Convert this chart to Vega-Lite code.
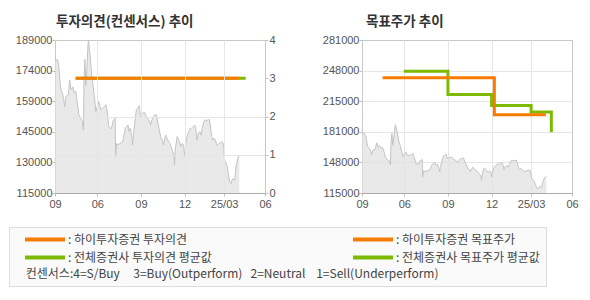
{
  "$schema": "https://vega.github.io/schema/vega-lite/v6.json",
  "padding": {"left": 8, "top": 14, "right": 5, "bottom": 5},
  "background": "white",
  "config": {
    "view": {"stroke": "#c8c8c8", "strokeWidth": 1},
    "axis": {"labelFont": "Liberation Sans", "labelFontSize": 11, "labelColor": "#555555", "domain": false, "tickColor": "#c0c0c0", "tickSize": 3, "gridColor": "#e6e6e6", "labelPadding": 1, "labelOverlap": false, "labelFlush": false},
    "axisX": {"domain": true, "domainColor": "#aaaaaa"},
    "title": {"anchor": "start", "frame": "group", "font": "Noto Sans CJK KR", "fontSize": 13.5, "fontWeight": "bold", "color": "#333333", "offset": 6}
  },
  "datasets": {
    "price": [
      {"date": "2024-03-01", "close": 178800}, {"date": "2024-03-06", "close": 179600}, {"date": "2024-03-09", "close": 177100},
      {"date": "2024-03-13", "close": 165800}, {"date": "2024-03-17", "close": 163400}, {"date": "2024-03-20", "close": 160100},
      {"date": "2024-03-22", "close": 156600}, {"date": "2024-03-25", "close": 161700}, {"date": "2024-03-30", "close": 162600},
      {"date": "2024-04-02", "close": 169500}, {"date": "2024-04-05", "close": 165000}, {"date": "2024-04-09", "close": 166300},
      {"date": "2024-04-12", "close": 163400}, {"date": "2024-04-15", "close": 164200}, {"date": "2024-04-18", "close": 159300},
      {"date": "2024-04-22", "close": 152800}, {"date": "2024-04-25", "close": 151200}, {"date": "2024-04-29", "close": 150000},
      {"date": "2024-05-02", "close": 145500}, {"date": "2024-05-03", "close": 168200}, {"date": "2024-05-05", "close": 179600},
      {"date": "2024-05-07", "close": 166900}, {"date": "2024-05-10", "close": 178000}, {"date": "2024-05-12", "close": 187700},
      {"date": "2024-05-13", "close": 189000}, {"date": "2024-05-15", "close": 184500}, {"date": "2024-05-17", "close": 180400},
      {"date": "2024-05-20", "close": 171500}, {"date": "2024-05-23", "close": 166600}, {"date": "2024-05-26", "close": 160900},
      {"date": "2024-05-29", "close": 154400}, {"date": "2024-06-01", "close": 156900}, {"date": "2024-06-04", "close": 159300},
      {"date": "2024-06-07", "close": 156900}, {"date": "2024-06-09", "close": 155200}, {"date": "2024-06-13", "close": 156000},
      {"date": "2024-06-17", "close": 156900}, {"date": "2024-06-20", "close": 157700}, {"date": "2024-06-23", "close": 153600},
      {"date": "2024-06-26", "close": 147100}, {"date": "2024-06-29", "close": 146300}, {"date": "2024-07-02", "close": 146300},
      {"date": "2024-07-05", "close": 149600}, {"date": "2024-07-07", "close": 150400}, {"date": "2024-07-10", "close": 151200},
      {"date": "2024-07-11", "close": 132500}, {"date": "2024-07-13", "close": 139000}, {"date": "2024-07-16", "close": 138200},
      {"date": "2024-07-20", "close": 139000}, {"date": "2024-07-23", "close": 139300}, {"date": "2024-07-26", "close": 139800},
      {"date": "2024-07-29", "close": 143000}, {"date": "2024-08-01", "close": 146300}, {"date": "2024-08-04", "close": 147100},
      {"date": "2024-08-07", "close": 147900}, {"date": "2024-08-09", "close": 144700}, {"date": "2024-08-12", "close": 146300},
      {"date": "2024-08-15", "close": 142300}, {"date": "2024-08-17", "close": 138200}, {"date": "2024-08-19", "close": 143900},
      {"date": "2024-08-22", "close": 149600}, {"date": "2024-08-25", "close": 155200}, {"date": "2024-08-28", "close": 156000},
      {"date": "2024-08-31", "close": 157200}, {"date": "2024-09-03", "close": 152000}, {"date": "2024-09-06", "close": 153600},
      {"date": "2024-09-09", "close": 153600}, {"date": "2024-09-12", "close": 154000}, {"date": "2024-09-15", "close": 152300},
      {"date": "2024-09-17", "close": 151200}, {"date": "2024-09-21", "close": 150400}, {"date": "2024-09-25", "close": 147900},
      {"date": "2024-09-28", "close": 150400}, {"date": "2024-10-01", "close": 152000}, {"date": "2024-10-04", "close": 152800},
      {"date": "2024-10-08", "close": 152800}, {"date": "2024-10-11", "close": 148800}, {"date": "2024-10-14", "close": 145500},
      {"date": "2024-10-17", "close": 142300}, {"date": "2024-10-20", "close": 140600}, {"date": "2024-10-23", "close": 138200},
      {"date": "2024-10-25", "close": 140600}, {"date": "2024-10-28", "close": 143000}, {"date": "2024-10-31", "close": 141500},
      {"date": "2024-11-03", "close": 139800}, {"date": "2024-11-06", "close": 139000}, {"date": "2024-11-09", "close": 137400},
      {"date": "2024-11-12", "close": 135000}, {"date": "2024-11-15", "close": 133300}, {"date": "2024-11-16", "close": 128500},
      {"date": "2024-11-18", "close": 136600}, {"date": "2024-11-22", "close": 142300}, {"date": "2024-11-25", "close": 140600},
      {"date": "2024-11-28", "close": 139000}, {"date": "2024-11-30", "close": 137400}, {"date": "2024-12-03", "close": 139000},
      {"date": "2024-12-06", "close": 138200}, {"date": "2024-12-08", "close": 132500}, {"date": "2024-12-10", "close": 137400},
      {"date": "2024-12-13", "close": 142300}, {"date": "2024-12-17", "close": 144700}, {"date": "2024-12-20", "close": 146300},
      {"date": "2024-12-23", "close": 146300}, {"date": "2024-12-27", "close": 147100}, {"date": "2024-12-30", "close": 147900},
      {"date": "2025-01-01", "close": 147100}, {"date": "2025-01-04", "close": 140600}, {"date": "2025-01-07", "close": 143900},
      {"date": "2025-01-10", "close": 144700}, {"date": "2025-01-13", "close": 143000}, {"date": "2025-01-16", "close": 147100},
      {"date": "2025-01-19", "close": 149600}, {"date": "2025-01-22", "close": 150400}, {"date": "2025-01-25", "close": 150000},
      {"date": "2025-01-28", "close": 150400}, {"date": "2025-01-31", "close": 150400}, {"date": "2025-02-02", "close": 147900},
      {"date": "2025-02-05", "close": 142300}, {"date": "2025-02-07", "close": 140600}, {"date": "2025-02-10", "close": 141500},
      {"date": "2025-02-13", "close": 140600}, {"date": "2025-02-16", "close": 138200}, {"date": "2025-02-18", "close": 138200},
      {"date": "2025-02-21", "close": 139000}, {"date": "2025-02-24", "close": 139300}, {"date": "2025-02-27", "close": 139800},
      {"date": "2025-03-02", "close": 139000}, {"date": "2025-03-03", "close": 137400}, {"date": "2025-03-05", "close": 130900},
      {"date": "2025-03-08", "close": 129600}, {"date": "2025-03-11", "close": 127700}, {"date": "2025-03-13", "close": 124400},
      {"date": "2025-03-16", "close": 120400}, {"date": "2025-03-19", "close": 119500}, {"date": "2025-03-21", "close": 121200},
      {"date": "2025-03-24", "close": 122000}, {"date": "2025-03-27", "close": 121200}, {"date": "2025-03-29", "close": 126000},
      {"date": "2025-03-31", "close": 129300}, {"date": "2025-04-02", "close": 130900}, {"date": "2025-04-04", "close": 132500},
      {"date": "2025-04-06", "close": 132900}
    ],
    "opinion": [
      {"series": "전체증권사 투자의견 평균값", "date": "2024-04-15", "value": 3},
      {"series": "전체증권사 투자의견 평균값", "date": "2025-04-20", "value": 3},
      {"series": "하이투자증권 투자의견", "date": "2024-04-15", "value": 3},
      {"series": "하이투자증권 투자의견", "date": "2025-04-06", "value": 3}
    ],
    "target": [
      {"series": "전체증권사 목표주가 평균값", "date": "2024-05-31", "value": 247000},
      {"series": "전체증권사 목표주가 평균값", "date": "2024-09-04", "value": 222000},
      {"series": "전체증권사 목표주가 평균값", "date": "2024-12-08", "value": 210000},
      {"series": "전체증권사 목표주가 평균값", "date": "2025-03-04", "value": 203000},
      {"series": "전체증권사 목표주가 평균값", "date": "2025-04-17", "value": 181000},
      {"series": "하이투자증권 목표주가", "date": "2024-04-15", "value": 240000},
      {"series": "하이투자증권 목표주가", "date": "2024-12-14", "value": 200000},
      {"series": "하이투자증권 목표주가", "date": "2025-04-05", "value": 200000}
    ]
  },
  "spacing": 45,
  "hconcat": [
    {
      "width": 210,
      "height": 153,
      "title": {"text": "투자의견(컨센서스) 추이", "dx": 1},
      "encoding": {
        "x": {
          "field": "date", "type": "temporal", "title": null,
          "scale": {"domain": [{"year": 2024, "month": 3, "date": 1}, {"year": 2025, "month": 6, "date": 1}]},
          "axis": {
            "values": [{"year": 2024, "month": 3, "date": 1}, {"year": 2024, "month": 6, "date": 1}, {"year": 2024, "month": 9, "date": 4}, {"year": 2024, "month": 12, "date": 8}, {"year": 2025, "month": 3, "date": 4}, {"year": 2025, "month": 6, "date": 1}],
            "labelExpr": "month(datum.value)==5 ? '06' : month(datum.value)==8 ? '09' : month(datum.value)==11 ? '12' : year(datum.value)==2025 ? '25/03' : '09'",
            "labelPadding": 2, "labelOverlap": false,
            "grid": true, "zindex": 1,
            "gridOpacity": {"condition": {"test": "(year(datum.value)==2024 && month(datum.value)==2) || (year(datum.value)==2025 && month(datum.value)==5)", "value": 0}, "value": 1}
          }
        }
      },
      "layer": [
        {
          "data": {"name": "price"},
          "mark": {"type": "area", "clip": true, "color": "#e0e0e0", "line": {"color": "#c4c4c4", "strokeWidth": 1}},
          "encoding": {
            "y": {
              "field": "close", "type": "quantitative", "title": null,
              "scale": {"domain": [115000, 189000], "nice": false, "zero": false},
              "axis": {"values": [115000, 129800, 144600, 159400, 174200, 189000], "labelExpr": "format(round(datum.value/1000)*1000,'d')", "grid": false, "labelPadding": 0, "labelOverlap": false}
            }
          }
        },
        {
          "layer": [
            {
              "data": {"name": "opinion"},
              "transform": [{"filter": "datum.series == '전체증권사 투자의견 평균값'"}],
              "mark": {"type": "line", "strokeWidth": 3},
              "encoding": {
                "y": {"field": "value", "type": "quantitative", "title": null, "scale": {"domain": [0, 4], "nice": false},
                  "axis": {"orient": "right", "values": [0, 1, 2, 3, 4], "grid": true, "zindex": 1, "labelOverlap": false,
                    "gridOpacity": {"condition": {"test": "datum.value==0 || datum.value==3 || datum.value==4", "value": 0}, "value": 1}}},
                "color": {
                  "field": "series", "type": "nominal",
                  "scale": {"domain": ["하이투자증권 투자의견", "전체증권사 투자의견 평균값", "하이투자증권 목표주가", "전체증권사 목표주가 평균값"], "range": ["#f77b00", "#7cbb00", "#f77b00", "#7cbb00"]},
                  "legend": {
                    "orient": "none", "legendX": -46, "legendY": 187, "columns": 2, "columnPadding": 131, "rowPadding": 5, "padding": 6, "clipHeight": 13,
                    "fillColor": "#fafafa", "strokeColor": "#dddddd",
                    "symbolType": "stroke", "symbolSize": 1600, "symbolStrokeWidth": 4, "symbolOffset": 8, "labelOffset": 1,
                    "labelFont": "Noto Sans CJK KR", "labelFontSize": 12, "labelColor": "#444444", "labelLimit": 0,
                    "labelExpr": "': ' + datum.label + '\u00a0\u00a0\u00a0\u00a0\u00a0'",
                    "title": "\u200b\u00a0\u00a0\u00a0\u00a0컨센서스:4=S/Buy\u00a0\u00a0\u00a0\u00a0\u00a03=Buy(Outperform)\u00a0\u00a0\u00a02=Neutral\u00a0\u00a0\u00a0\u00a01=Sell(Underperform)",
                    "titleOrient": "bottom", "titleAnchor": "start", "titleFont": "Noto Sans CJK KR", "titleFontSize": 12, "titleFontWeight": "normal", "titleColor": "#444444", "titlePadding": 5, "titleLimit": 0
                  }
                }
              }
            },
            {
              "data": {"name": "opinion"},
              "transform": [{"filter": "datum.series == '하이투자증권 투자의견'"}],
              "mark": {"type": "line", "strokeWidth": 3},
              "encoding": {
                "y": {"field": "value", "type": "quantitative", "title": null, "scale": {"domain": [0, 4], "nice": false},
                  "axis": {"orient": "right", "values": [0, 1, 2, 3, 4], "grid": true, "zindex": 1, "labelOverlap": false,
                    "gridOpacity": {"condition": {"test": "datum.value==0 || datum.value==3 || datum.value==4", "value": 0}, "value": 1}}},
                "color": {
                  "field": "series", "type": "nominal",
                  "scale": {"domain": ["하이투자증권 투자의견", "전체증권사 투자의견 평균값", "하이투자증권 목표주가", "전체증권사 목표주가 평균값"], "range": ["#f77b00", "#7cbb00", "#f77b00", "#7cbb00"]}
                }
              }
            }
          ]
        }
      ],
      "resolve": {"scale": {"y": "independent"}}
    },
    {
      "width": 210,
      "height": 153,
      "title": {"text": "목표주가 추이", "dx": 4},
      "encoding": {
        "x": {
          "field": "date", "type": "temporal", "title": null,
          "scale": {"domain": [{"year": 2024, "month": 3, "date": 1}, {"year": 2025, "month": 6, "date": 1}]},
          "axis": {
            "values": [{"year": 2024, "month": 3, "date": 1}, {"year": 2024, "month": 6, "date": 1}, {"year": 2024, "month": 9, "date": 4}, {"year": 2024, "month": 12, "date": 8}, {"year": 2025, "month": 3, "date": 4}, {"year": 2025, "month": 6, "date": 1}],
            "labelExpr": "month(datum.value)==5 ? '06' : month(datum.value)==8 ? '09' : month(datum.value)==11 ? '12' : year(datum.value)==2025 ? '25/03' : '09'",
            "labelPadding": 2, "labelOverlap": false,
            "grid": true,
            "gridOpacity": {"condition": {"test": "(year(datum.value)==2024 && month(datum.value)==2) || (year(datum.value)==2025 && month(datum.value)==5)", "value": 0}, "value": 1}
          }
        }
      },
      "layer": [
        {
          "data": {"name": "price"},
          "mark": {"type": "area", "clip": true, "color": "#e0e0e0", "line": {"color": "#c4c4c4", "strokeWidth": 1}},
          "encoding": {
            "y": {
              "field": "close", "type": "quantitative", "title": null,
              "scale": {"domain": [115000, 281000], "nice": false, "zero": false},
              "axis": {"values": [115000, 148200, 181400, 214600, 247800, 281000], "labelExpr": "format(round(datum.value/1000)*1000,'d')", "grid": true, "labelPadding": 0, "labelOverlap": false,
                "gridOpacity": {"condition": {"test": "datum.value==115000 || datum.value==281000", "value": 0}, "value": 1}}
            }
          }
        },
        {
          "data": {"name": "target"},
          "transform": [{"filter": "datum.series == '전체증권사 목표주가 평균값'"}],
          "mark": {"type": "line", "strokeWidth": 3, "interpolate": "step-after"},
          "encoding": {
            "y": {"field": "value", "type": "quantitative", "title": null,
              "axis": {"values": [115000, 148200, 181400, 214600, 247800, 281000], "labelExpr": "format(round(datum.value/1000)*1000,'d')", "grid": true, "labelPadding": 0, "labelOverlap": false,
                "gridOpacity": {"condition": {"test": "datum.value==115000 || datum.value==281000", "value": 0}, "value": 1}}},
            "color": {
              "field": "series", "type": "nominal",
              "scale": {"domain": ["하이투자증권 투자의견", "전체증권사 투자의견 평균값", "하이투자증권 목표주가", "전체증권사 목표주가 평균값"], "range": ["#f77b00", "#7cbb00", "#f77b00", "#7cbb00"]}
            }
          }
        },
        {
          "data": {"name": "target"},
          "transform": [{"filter": "datum.series == '하이투자증권 목표주가'"}],
          "mark": {"type": "line", "strokeWidth": 3, "interpolate": "step-after"},
          "encoding": {
            "y": {"field": "value", "type": "quantitative", "title": null,
              "axis": {"values": [115000, 148200, 181400, 214600, 247800, 281000], "labelExpr": "format(round(datum.value/1000)*1000,'d')", "grid": true, "labelPadding": 0, "labelOverlap": false,
                "gridOpacity": {"condition": {"test": "datum.value==115000 || datum.value==281000", "value": 0}, "value": 1}}},
            "color": {
              "field": "series", "type": "nominal",
              "scale": {"domain": ["하이투자증권 투자의견", "전체증권사 투자의견 평균값", "하이투자증권 목표주가", "전체증권사 목표주가 평균값"], "range": ["#f77b00", "#7cbb00", "#f77b00", "#7cbb00"]}
            }
          }
        }
      ]
    }
  ]
}
